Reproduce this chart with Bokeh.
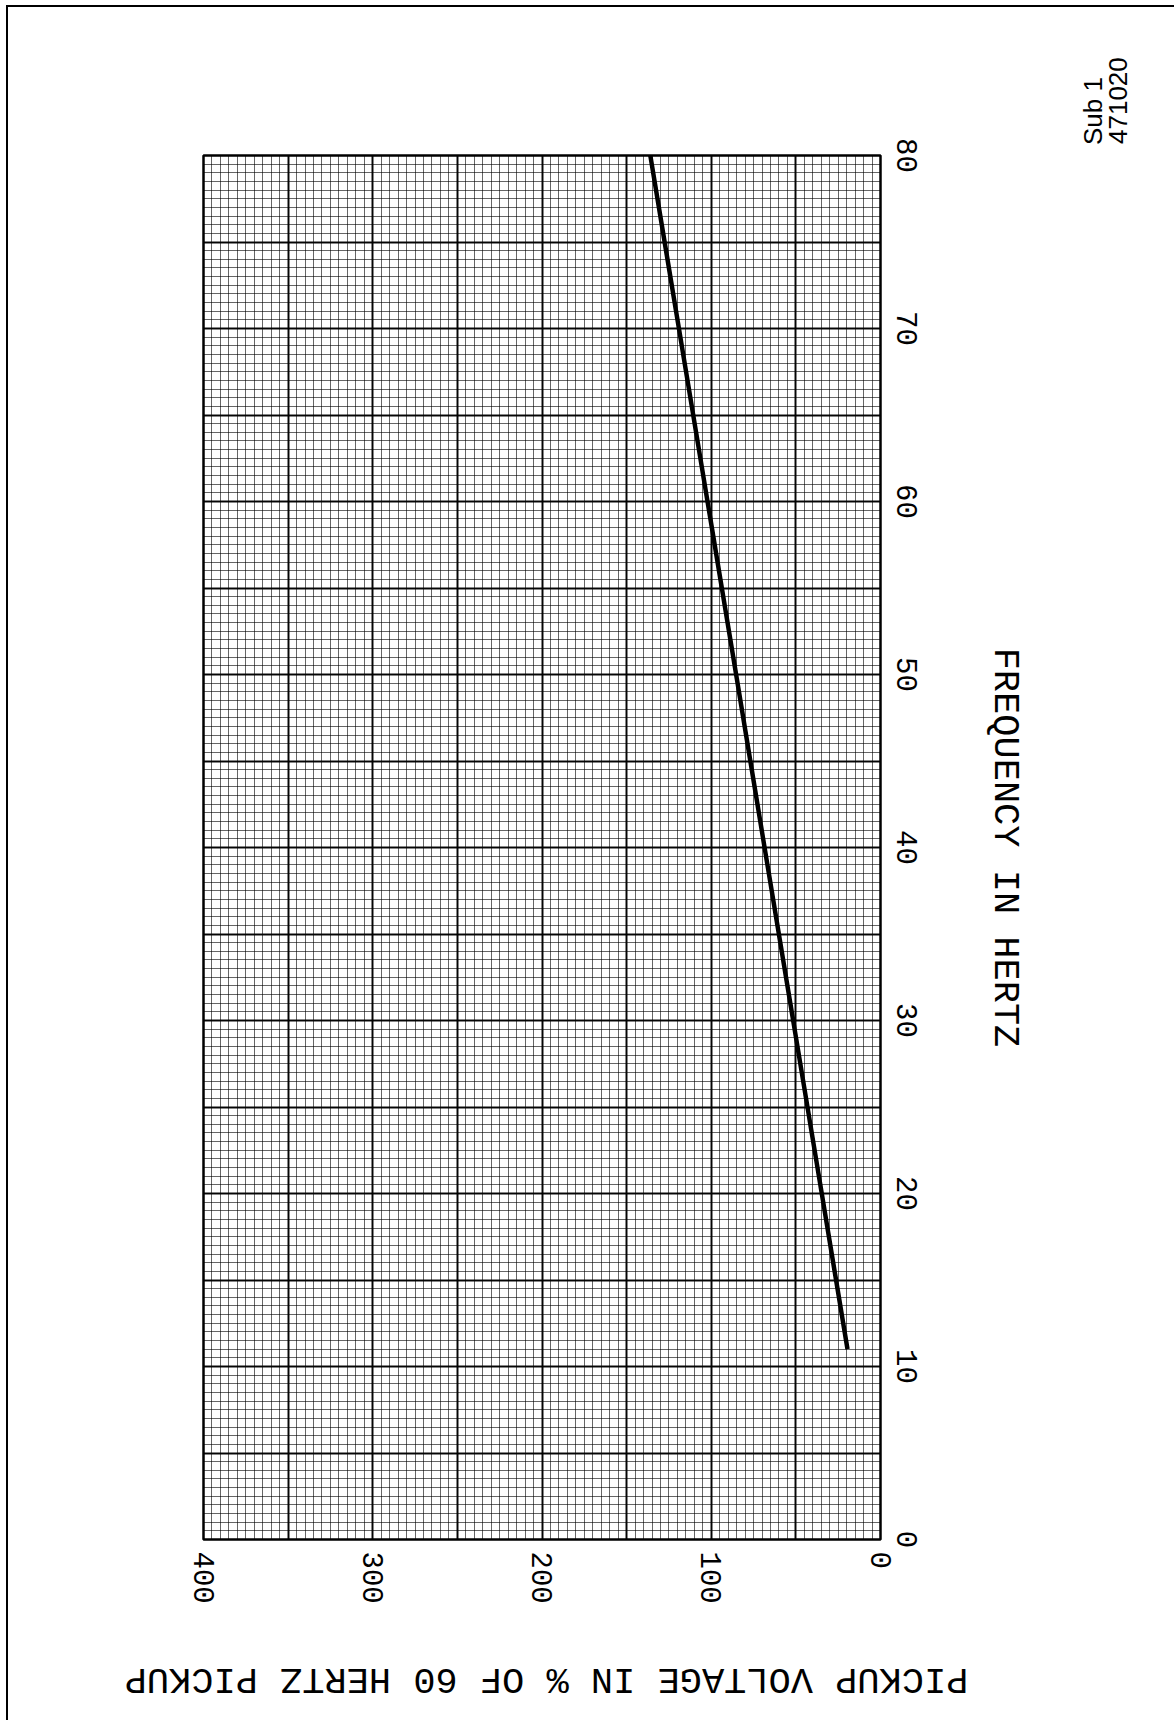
from math import pi
from bokeh.plotting import figure
from bokeh.layouts import row, column
from bokeh.models import Range1d, FixedTicker, SingleIntervalTicker, Label, Div
from bokeh.embed import file_html
from bokeh.resources import INLINE

# ---- data ----
freq_hz = [11.0, 20, 30, 40, 50, 60, 70, 80]
pickup_pct = [19.5, 34.7, 51.6, 68.5, 85.3, 102.2, 119.1, 136]
volt_ticks = [0, 100, 200, 300, 400]
freq_ticks = [0, 10, 20, 30, 40, 50, 60, 70, 80]
volt_title = "PICKUP VOLTAGE IN % OF 60 HERTZ PICKUP"
freq_title = "FREQUENCY IN HERTZ"
stamp_lines = ["Sub 1", "471020"]

MONO = "Liberation Mono"

MAIN_W = 195 + 677 + 180
MAIN_H = 148 + 1384 + 100
SIDE_W = 112
BOTTOM_H = 81

p = figure(frame_width=677, frame_height=1384,
           x_range=Range1d(400, 0), y_range=Range1d(0, 80),
           y_axis_location="right",
           min_border_left=195, min_border_top=148,
           min_border_right=180, min_border_bottom=100,
           output_backend="svg", toolbar_location=None,
           background_fill_color="white", border_fill_color="white")

# graph-paper grid
p.xgrid.ticker = SingleIntervalTicker(interval=50, num_minor_ticks=10)
p.ygrid.ticker = SingleIntervalTicker(interval=5, num_minor_ticks=10)
for g in (p.xgrid, p.ygrid):
    g.grid_line_color = "black"
    g.grid_line_width = 2
    g.grid_line_alpha = 0.95
    g.minor_grid_line_color = "black"
    g.minor_grid_line_width = 1
    g.minor_grid_line_alpha = 0.6

p.outline_line_color = "black"
p.outline_line_width = 2.5

# axes
xa = p.xaxis[0]
ya = p.yaxis[0]
xa.ticker = FixedTicker(ticks=volt_ticks)
ya.ticker = FixedTicker(ticks=freq_ticks)
for ax in (xa, ya):
    ax.axis_line_color = None
    ax.major_tick_line_color = None
    ax.minor_tick_line_color = None
    ax.major_label_orientation = "vertical"
    ax.major_label_text_font = MONO
    ax.major_label_text_font_size = "29px"
    ax.major_label_text_color = "black"
    ax.axis_label_text_font = MONO
    ax.axis_label_text_font_size = "37px"
    ax.axis_label_text_font_style = "normal"
    ax.axis_label_text_color = "black"
xa.major_label_standoff = 6
ya.major_label_standoff = 10

ya.axis_label = freq_title
ya.axis_label_standoff = 64
try:
    ya.axis_label_orientation = "vertical"
except Exception:
    pass

# curve
p.line(pickup_pct, freq_hz, line_width=4.5, line_color="black")

# stamp at the upper right, as rotated HTML text
span_css = ("position:absolute;transform:rotate(-90deg);transform-origin:left top;"
            "font-family:'Liberation Sans';font-size:26px;line-height:26px;"
            "white-space:nowrap;color:black;")
stamp_html = (
    '<div style="position:relative;width:%dpx;height:200px;">' % SIDE_W
    + '<span style="%sleft:15px;top:133px;">%s</span>' % (span_css, stamp_lines[0])
    + '<span style="%sleft:40px;top:132px;">%s</span>' % (span_css, stamp_lines[1])
    + '</div>'
)
stamp = Div(text=stamp_html, width=SIDE_W, height=200)

# strip below with the (upside-down) voltage title
t = figure(frame_width=MAIN_W + SIDE_W, frame_height=BOTTOM_H,
           x_range=Range1d(0, MAIN_W + SIDE_W), y_range=Range1d(BOTTOM_H, 0),
           min_border=0, output_backend="svg", toolbar_location=None,
           background_fill_color="white", border_fill_color="white")
t.axis.visible = False
t.grid.visible = False
t.outline_line_color = None
t.add_layout(Label(x=538, y=39, text=volt_title, angle=pi,
                   text_align="center", text_baseline="middle",
                   text_font=MONO, text_font_size="37px", text_color="black"))

page = column(row(p, stamp), t,
              styles={"border-left": "2px solid black", "border-top": "2px solid black",
                      "margin-left": "6px", "margin-top": "5px"})

open("out.html", "w").write(file_html(page, INLINE))
